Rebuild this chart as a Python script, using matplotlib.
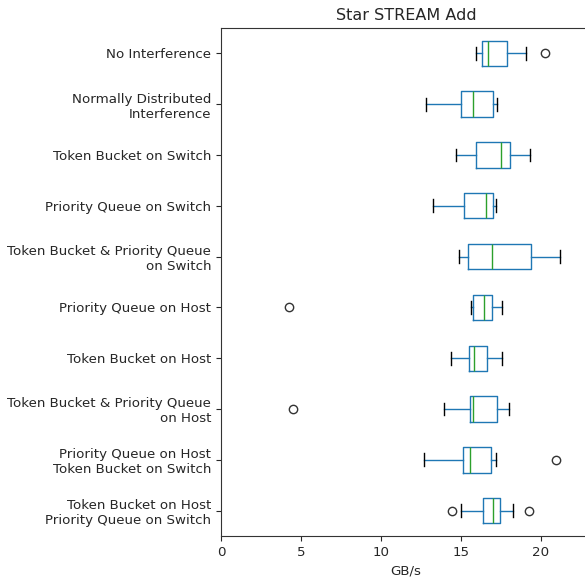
import matplotlib
matplotlib.use('Agg')
import matplotlib.pyplot as plt

# Scenario names, top to bottom
labels = [
    'No Interference',
    'Normally Distributed\nInterference',
    'Token Bucket on Switch',
    'Priority Queue on Switch',
    'Token Bucket & Priority Queue\non Switch',
    'Priority Queue on Host',
    'Token Bucket on Host',
    'Token Bucket & Priority Queue\non Host',
    'Priority Queue on Host\nToken Bucket on Switch',
    'Token Bucket on Host\nPriority Queue on Switch',
]

# Bandwidth summary per scenario (GB/s)
whislo = [15.94, 12.83, 14.67, 13.25, 14.85, 15.60, 14.35, 13.92, 12.67, 15.02]
q1 = [16.33, 15.00, 15.92, 15.17, 15.42, 15.73, 15.48, 15.56, 15.15, 16.40]
med = [16.67, 15.73, 17.50, 16.58, 16.92, 16.42, 15.83, 15.75, 15.56, 17.00]
q3 = [17.85, 17.02, 18.08, 17.02, 19.35, 16.94, 16.60, 17.27, 16.85, 17.44]
whishi = [19.08, 17.25, 19.33, 17.17, 21.19, 17.58, 17.58, 17.98, 17.17, 18.27]
fliers = [[20.25], [], [], [], [], [4.25], [], [4.50], [20.92], [14.46, 19.27]]

stats = []
for i in range(len(labels)):
    stats.append({'label': labels[i], 'whislo': whislo[i], 'q1': q1[i],
                  'med': med[i], 'q3': q3[i], 'whishi': whishi[i],
                  'fliers': fliers[i]})

plt.rcParams['text.color'] = '#262626'
plt.rcParams['xtick.color'] = '#262626'
plt.rcParams['ytick.color'] = '#262626'
plt.rcParams['axes.labelcolor'] = '#262626'
plt.rcParams['axes.edgecolor'] = '#333333'

fig = plt.figure(figsize=(5.85, 5.81), dpi=100)
ax = fig.add_axes([221 / 585, 45 / 581, 370 / 585, 508 / 581])

positions = list(range(len(labels), 0, -1))
ax.bxp(stats, positions=positions, vert=False, widths=0.5,
       boxprops=dict(color='#1f77b4'),
       whiskerprops=dict(color='#1f77b4'),
       medianprops=dict(color='#2ca02c'),
       capprops=dict(color='k'),
       flierprops=dict(marker='o', markeredgecolor='#333333',
                       markerfacecolor='none', markersize=6))

ax.set_ylim(0.5, len(labels) + 0.5)
ax.set_xlim(0, 23.125)
ax.set_xticks([0, 5, 10, 15, 20])
ax.tick_params(axis='both', labelsize=9.6)
ax.set_xlabel('GB/s', fontsize=9.6)
ax.set_title('Star STREAM Add', fontsize=11.5)

fig.savefig('out.png', dpi=100)
